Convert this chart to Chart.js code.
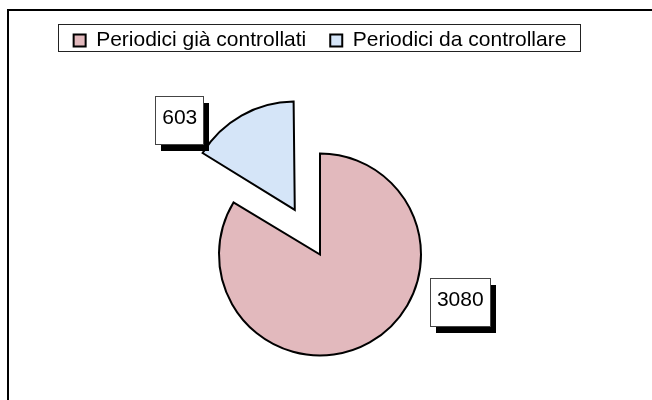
<!DOCTYPE html>
<html>
<head>
<meta charset="utf-8">
<script src="https://cdn.jsdelivr.net/npm/chart.js@4"></script>
<style>
  html, body { margin: 0; padding: 0; background: #fff; overflow: hidden; }
  #cornice { position: absolute; left: 7px; top: 9px; width: 700px; height: 500px; border-left: 2px solid #000; border-top: 2px solid #000; }
  #contenitore { position: absolute; left: 0; top: 0; width: 652px; height: 448px; }
</style>
</head>
<body>
<div id="cornice"></div>
<div id="contenitore"><canvas id="periodiciChart"></canvas></div>
<script>
const categorie = ["Periodici già controllati", "Periodici da controllare"];
const valori = [3080, 603];
const colori = ["#e2b9bd", "#d5e5f8"];
const esplosione = [0, 205];
// centro delle etichette rispetto al centro della torta, in raggi
const posEtichette = [[1.37, 0.47], [-1.38, -1.32]];

const font = "'Liberation Sans', Arial, sans-serif";

const etichette = {
  id: "etichette",
  afterDatasetsDraw(chart) {
    const ctx = chart.ctx;
    const meta = chart.getDatasetMeta(0);
    ctx.save();
    ctx.font = "21px " + font;
    ctx.textAlign = "center";
    ctx.textBaseline = "middle";
    meta.data.forEach((arc, i) => {
      const r = arc.outerRadius + 1;
      const cx = arc.x + posEtichette[i][0] * r;
      const cy = arc.y + posEtichette[i][1] * r;
      const testo = String(valori[i]);
      const w = Math.round(ctx.measureText(testo).width + 13);
      const h = 48;
      const x = Math.round(cx - w / 2);
      const y = Math.round(cy - h / 2);
      ctx.fillStyle = "#000";
      ctx.fillRect(x + 6, y + 7, w, h);
      ctx.fillStyle = "#fff";
      ctx.fillRect(x, y, w, h);
      ctx.strokeStyle = "#444";
      ctx.lineWidth = 1;
      ctx.strokeRect(x + 0.5, y + 0.5, w, h);
      ctx.fillStyle = "#000";
      ctx.fillText(testo, cx + 0.5, cy - 2);
    });
    ctx.restore();
  }
};

const bordoLegenda = {
  id: "bordoLegenda",
  afterDraw(chart) {
    const boxes = chart.legend.legendHitBoxes;
    if (!boxes || !boxes.length) return;
    const ctx = chart.ctx;
    const primo = boxes[0];
    const ultimo = boxes[boxes.length - 1];
    const x1 = Math.round(primo.left) - 16;
    const x2 = Math.round(ultimo.left + ultimo.width) + 14;
    const y1 = Math.round(primo.top) - 6;
    const y2 = Math.round(primo.top + primo.height);
    ctx.save();
    ctx.strokeStyle = "#222";
    ctx.lineWidth = 1;
    ctx.strokeRect(x1 + 0.5, y1 + 0.5, x2 - x1, y2 - y1);
    ctx.restore();
  }
};

new Chart(document.getElementById("periodiciChart"), {
  type: "pie",
  data: {
    labels: categorie,
    datasets: [{
      data: valori,
      backgroundColor: colori,
      borderColor: "#000",
      borderWidth: 2,
      borderJoinStyle: "miter",
      offset: esplosione,
      radius: 101
    }]
  },
  options: {
    responsive: true,
    maintainAspectRatio: false,
    animation: false,
    layout: { padding: { top: 6, left: 1, right: 13, bottom: 0 } },
    plugins: {
      legend: {
        position: "top",
        labels: {
          boxWidth: 12,
          boxHeight: 12,
          padding: 24,
          color: "#000",
          font: { family: font, size: 21 }
        }
      },
      tooltip: { enabled: false }
    }
  },
  plugins: [etichette, bordoLegenda]
});
</script>
</body>
</html>
